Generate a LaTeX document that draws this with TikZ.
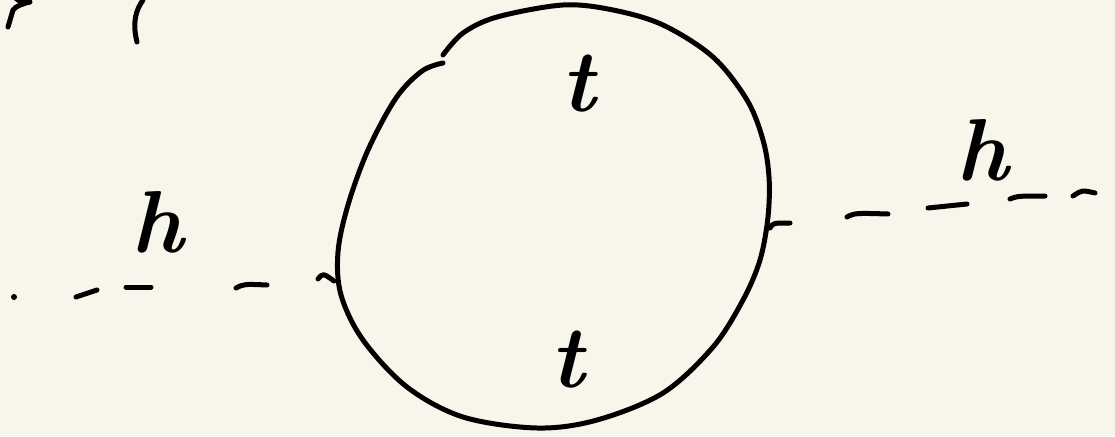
\documentclass[tikz,border=0pt]{standalone}
\usepackage{fontspec}
\definecolor{paper}{RGB}{248,246,234}
\definecolor{ink}{RGB}{0,0,0}
\tikzset{
  pen/.style={draw=ink, line width=5pt, line cap=round, line join=round},
  lbl/.style={inner sep=0pt, font=\fontsize{88}{88}\selectfont\bfseries\itshape, text=ink}
}
\begin{document}
\begin{tikzpicture}[x=1pt,y=-1pt]
\fill[paper] (0,0) rectangle (1115,436);
\useasboundingbox (0,0) rectangle (1115,436);
% vertices
\coordinate (vl) at (336,280);
\coordinate (vr) at (770,226);
% top-left cut-off strokes
\fill[ink] (14,0) .. controls (18,5) and (26,5) .. (32,0) -- cycle;
\draw[pen] (30,2) .. controls (22,4) and (16,6) .. (13,10) -- (8,27);
\draw[pen] (143,0) .. controls (136,10) and (132,22) .. (137,42);
% top loop (main stroke)
\draw[pen] plot[smooth, tension=0.55] coordinates {
  (443,63) (422,71) (396,98) (368,150) (348,205) (338,252) (341,295)
  (363,340) (407,387) (463,417) (537,428) (597,420) (663,393) (713,347)
  (743,300) (760,260) (768,217) (769,177) (763,140) (747,100) (713,57)
  (663,25) (613,10) (563,5) (497,17) (463,33) (443,55)};
% left higgs line
\fill[ink] (14,297) circle (3pt);
\draw[pen] (76,297) -- (97,290);
\draw[pen] (126,287) -- (151,287);
\draw[pen] (236,288) .. controls (244,284) .. (267,285);
\draw[pen] (318,279) .. controls (323,273) .. (334,281);
% right higgs line
\draw[pen] (770,228) .. controls (773,223) .. (790,223);
\draw[pen] (847,217) .. controls (855,213) .. (888,214);
\draw[pen] (928,208) -- (967,204);
\draw[pen] (1010,199) .. controls (1018,196) .. (1045,196);
\draw[pen] (1073,196) .. controls (1082,190) .. (1095,193);
% labels
\node[lbl] (tt) at (578,84) {t};
\node[lbl] (tb) at (567,360) {t};
\node[lbl] (hl) at (158,222) {h};
\node[lbl] (hr) at (982,150) {h};
\end{tikzpicture}
\end{document}
